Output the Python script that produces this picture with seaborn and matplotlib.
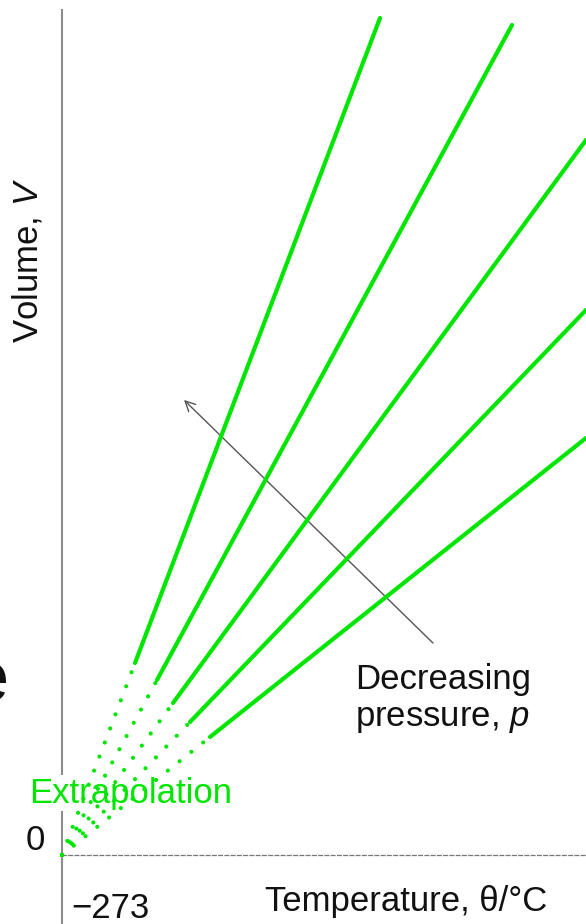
import matplotlib
matplotlib.use("Agg")
import matplotlib.pyplot as plt
import seaborn as sns

# data (theta in degC, volume in arbitrary units)
abs_zero = -273
solid_start_t = [-200, -178, -162, -145, -125]
solid_start_v = [192, 175, 152, 133, 118]
solid_end_t = [45, 177, 251, 251, 251]
solid_end_v = [837, 830, 715, 545, 417]

green = "#00e600"
grey = "#8c8c8c"

sns.set_theme(style="white")
plt.rcParams["font.family"] = ["Liberation Sans", "DejaVu Sans"]
plt.rcParams["mathtext.fontset"] = "custom"
plt.rcParams["mathtext.rm"] = "Liberation Sans"
plt.rcParams["mathtext.it"] = "Liberation Sans:italic"

fig = plt.figure(figsize=(5.86, 9.24), dpi=100)
ax = fig.add_axes([0, 0, 1, 1])
ax.set_xlim(-335, 251)
ax.set_ylim(-69, 855)

for t0, v0, t1, v1 in zip(solid_start_t, solid_start_v, solid_end_t, solid_end_v):
    # extrapolated part back to absolute zero
    sns.lineplot(x=[abs_zero, t0], y=[0, v0], ax=ax, color=green, lw=3,
                 linestyle=(0, (0.01, 3.6)), dash_capstyle="round", zorder=4)
    # measured part
    sns.lineplot(x=[t0, t1], y=[v0, v1], ax=ax, color=green, lw=3,
                 solid_capstyle="round", zorder=4)

# axes
for s in ["top", "right"]:
    ax.spines[s].set_visible(False)
ax.spines["left"].set_position(("data", abs_zero))
ax.spines["left"].set_bounds(-69, 845)
ax.spines["left"].set_color(grey)
ax.spines["left"].set_linewidth(1.5)
ax.spines["left"].set_zorder(1)
ax.spines["bottom"].set_position(("data", 0))
ax.spines["bottom"].set_bounds(abs_zero, 251)
ax.spines["bottom"].set_color("#777777")
ax.spines["bottom"].set_linewidth(0.9)
ax.spines["bottom"].set_linestyle((0, (3, 2)))
ax.set_xticks([])
ax.set_yticks([])

fs = 25
ax.text(-300, 15, "0", fontsize=fs, ha="center", va="center", color="#111111")
ax.text(-264, -54, "\u2212273", fontsize=fs, ha="left", va="center", color="#111111")
ax.text(-70, -46, "Temperature, \u03b8/\u00b0C", fontsize=fs, ha="left", va="center",
        color="#111111")
ax.text(-308, 595, "Volume, $V$", fontsize=fs, rotation=90, ha="center", va="center",
        color="#111111")
ax.text(-204, 62, "Extrapolation", fontsize=fs, ha="center", va="center", color=green,
        zorder=2, bbox=dict(facecolor="white", edgecolor="none", pad=1))
ax.text(20, 192, "Decreasing\npressure, $p$", fontsize=fs, ha="left", va="top",
        linespacing=1.15, color="#111111")

# cut-off fragment at the left edge
ax.text(-326, 172, "e", fontsize=52, ha="right", va="center", color="#111111")

ax.annotate("", xy=(-153, 457), xytext=(100, 210),
            arrowprops=dict(arrowstyle="->", color="#555555", lw=1,
                            mutation_scale=18))

fig.savefig("out.png", dpi=100)
